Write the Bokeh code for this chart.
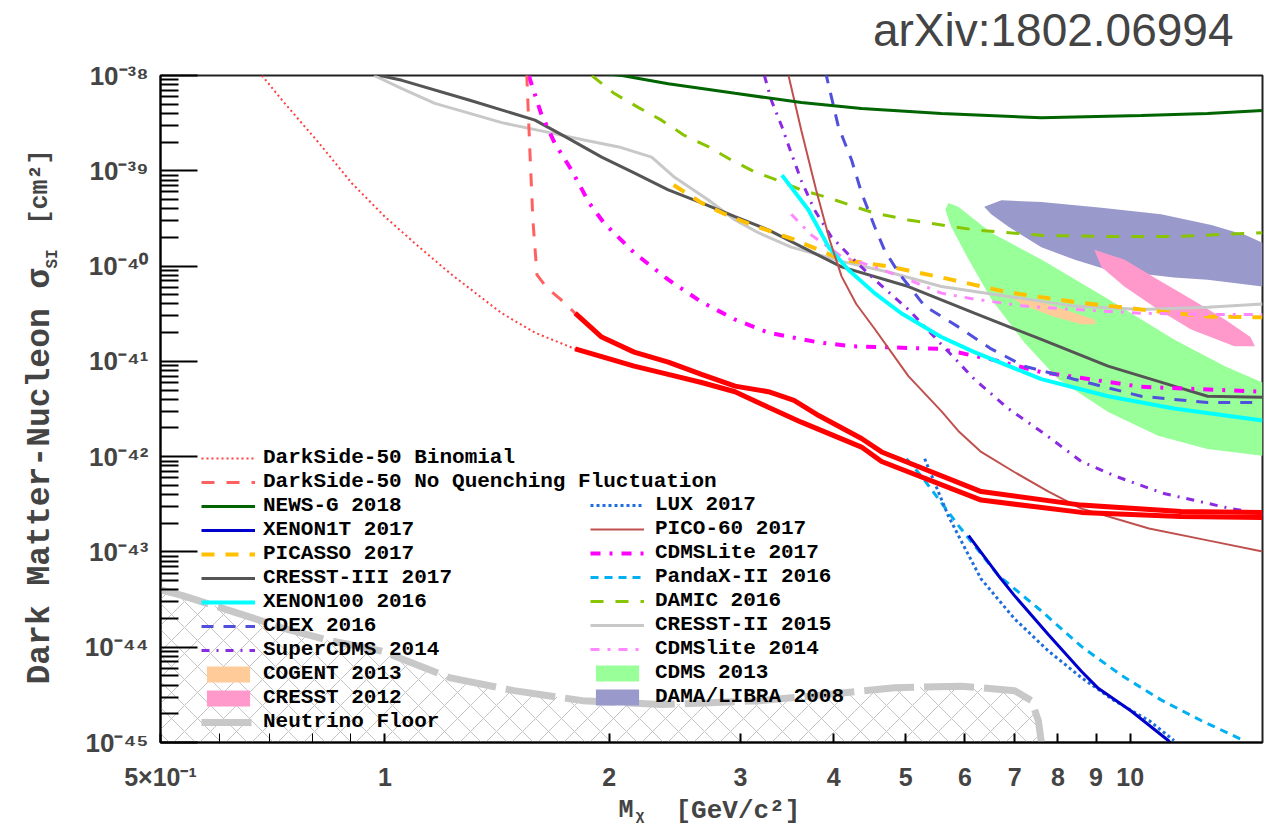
import math
from bokeh.plotting import figure
from bokeh.layouts import column, row
from bokeh.models import FixedTicker, Legend, LegendItem, Label
from bokeh.embed import file_html
from bokeh.resources import INLINE

# ---------------- axes ----------------
X_RANGE = (0.5, 15.05)
Y_RANGE = (1e-45, 1e-38)
x_ticks = [0.5, 1, 2, 3, 4, 5, 6, 7, 8, 9, 10]
x_tick_labels = ["5×10⁻¹", "1", "2", "3", "4", "5", "6", "7", "8", "9", "10"]
x_minor_ticks = [0.6, 0.7, 0.8, 0.9]
y_ticks = [1e-45, 1e-44, 1e-43, 1e-42, 1e-41, 1e-40, 1e-39, 1e-38]
y_tick_labels = ["10⁻⁴⁵", "10⁻⁴⁴", "10⁻⁴³", "10⁻⁴²", "10⁻⁴¹", "10⁻⁴⁰", "10⁻³⁹", "10⁻³⁸"]
y_minor_mantissas = [2, 3, 4, 5, 6, 7, 8, 9]

# ---------------- data (mass GeV/c^2, cross-section cm^2) ----------------
ds_bin_dot_m = [0.684, 0.734, 0.816, 0.903, 1.0, 1.11, 1.23, 1.435, 1.59, 1.80]
ds_bin_dot_s = [1.0e-38, 5.1e-39, 1.95e-39, 7.4e-40, 3.3e-40, 1.6e-40, 8.1e-41, 3.2e-41, 2.0e-41, 1.35e-41]

ds_nq_dash_m = [1.55, 1.565, 1.58, 1.60, 1.65, 1.72, 1.80]
ds_nq_dash_s = [1.05e-38, 1.65e-39, 3.0e-40, 8.1e-41, 5.9e-41, 4.5e-41, 3.2e-41]

ds_nq_m = [1.80, 1.954, 2.16, 2.40, 2.66, 2.95, 3.27, 3.54, 3.82, 4.36, 4.64, 6.31, 8.60, 11.7, 15.05]
ds_nq_s = [3.2e-41, 1.8e-41, 1.25e-41, 9.8e-42, 7.3e-42, 5.5e-42, 4.8e-42, 3.9e-42, 2.7e-42,
           1.55e-42, 1.12e-42, 4.3e-43, 3.1e-43, 2.65e-43, 2.6e-43]

ds_bin_m = [1.80, 1.954, 2.16, 2.40, 2.66, 2.95, 3.27, 3.62, 4.36, 4.64, 6.31, 8.60, 11.7, 15.05]
ds_bin_s = [1.35e-41, 1.12e-41, 8.9e-42, 7.3e-42, 6.0e-42, 4.8e-42, 3.3e-42, 2.3e-42, 1.26e-42,
            8.9e-43, 3.5e-43, 2.6e-43, 2.35e-43, 2.3e-43]

newsg_m = [1.85, 2.08, 2.40, 2.95, 3.62, 4.36, 5.58, 7.60, 10.35, 12.7, 15.05]
newsg_s = [1.1e-38, 1.0e-38, 8.2e-39, 6.5e-39, 5.2e-39, 4.5e-39, 4.0e-39, 3.6e-39, 3.8e-39, 4.0e-39, 4.3e-39]

xenon1t_m = [6.07, 6.65, 6.99, 7.77, 8.60, 9.06, 10.03, 11.25, 11.5]
xenon1t_s = [1.48e-43, 5.7e-44, 3.5e-44, 1.35e-44, 5.6e-45, 3.7e-45, 2.14e-45, 1.05e-45, 8.5e-46]

lux_m = [5.30, 5.70, 6.0, 6.31, 6.99, 7.77, 8.60, 9.52, 10.6, 11.45]
lux_s = [9.5e-43, 2.4e-43, 1.1e-43, 5.2e-44, 2.0e-44, 9.1e-45, 4.8e-45, 2.75e-45, 1.7e-45, 1.05e-45]

pandax_m = [5.01, 5.25, 5.88, 6.65, 7.60, 8.60, 9.72, 11.0, 12.45, 14.2]
pandax_s = [9.5e-43, 6.2e-43, 1.9e-43, 5.7e-44, 2.4e-44, 1.02e-44, 5.1e-45, 2.8e-45, 1.7e-45, 1.05e-45]

pico_m = [3.48, 3.62, 3.79, 3.95, 4.10, 4.29, 4.54, 5.04, 5.58, 5.88, 6.31, 6.99, 7.77, 8.60, 10.6, 12.9, 15.05]
pico_s = [1.0e-38, 2.66e-39, 6.3e-40, 1.9e-40, 7.8e-41, 4.0e-41, 2.2e-41, 7.0e-42, 3.0e-42, 1.86e-42,
          1.12e-42, 6.9e-43, 4.3e-43, 2.85e-43, 1.76e-43, 1.29e-43, 1.01e-43]

cdmslite17_m = [1.56, 1.62, 1.69, 1.78, 1.88, 1.97, 2.16, 2.40, 2.66, 2.95, 3.27, 3.82, 4.23, 5.58,
                6.51, 7.60, 10.35, 15.05]
cdmslite17_s = [1.0e-38, 4.0e-39, 1.95e-39, 1.02e-39, 4.6e-40, 2.8e-40, 1.38e-40, 7.2e-41, 4.2e-41,
                2.75e-41, 2.0e-41, 1.58e-41, 1.44e-41, 1.35e-41, 1.05e-41, 7.7e-42, 5.4e-42, 4.8e-42]

picasso_m = [2.44, 2.66, 2.86, 3.07, 3.30, 3.54, 3.82, 4.10, 4.78, 5.58, 6.86, 8.41, 10.35, 12.7, 15.05]
picasso_s = [7.1e-40, 4.6e-40, 3.5e-40, 2.8e-40, 2.3e-40, 1.9e-40, 1.48e-40, 1.17e-40, 9.8e-41,
             7.6e-41, 5.3e-41, 4.2e-41, 3.5e-41, 2.95e-41, 2.9e-41]

cresst3_m = [0.985, 1.054, 1.30, 1.59, 1.76, 1.954, 2.16, 2.40, 2.66, 2.95, 3.27, 3.62, 4.10, 5.04,
             6.18, 7.60, 9.34, 11.45, 12.7, 15.05]
cresst3_s = [1.0e-38, 8.9e-39, 5.5e-39, 3.4e-39, 2.2e-39, 1.39e-39, 9.5e-40, 6.3e-40, 4.6e-40, 3.3e-40,
             2.4e-40, 1.6e-40, 9.8e-41, 6.1e-41, 3.2e-41, 1.7e-41, 8.9e-42, 5.5e-42, 4.3e-42, 4.2e-42]

xenon100_m = [3.41, 3.70, 3.94, 4.19, 4.54, 4.93, 5.58, 6.18, 7.60, 9.34, 11.45, 15.05]
xenon100_s = [9.0e-40, 3.9e-40, 1.58e-40, 9.1e-41, 5.2e-41, 3.2e-41, 1.8e-41, 1.25e-41, 6.5e-42,
              4.3e-42, 3.2e-42, 2.4e-42]

cdex_m = [3.90, 4.06, 4.23, 4.36, 4.54, 4.68, 4.89, 5.30, 5.88, 6.51, 7.21, 8.41, 10.35, 12.7, 15.05]
cdex_s = [1.1e-38, 2.9e-39, 1.29e-39, 5.9e-40, 2.6e-40, 1.48e-40, 8.5e-41, 3.8e-41, 2.3e-41, 1.35e-41,
          8.9e-42, 6.5e-42, 4.3e-42, 3.7e-42, 3.7e-42]

supercdms_m = [3.23, 3.30, 3.41, 3.51, 3.62, 3.77, 3.97, 4.19, 4.54, 5.04, 5.58, 6.18, 6.86, 7.67,
               8.60, 9.52, 11.1, 13.65, 15.05]
supercdms_s = [1.0e-38, 5.5e-39, 2.9e-39, 1.53e-39, 7.9e-40, 3.9e-40, 2.04e-40, 1.32e-40, 7.2e-41,
               3.5e-41, 1.51e-41, 6.5e-42, 3.2e-42, 1.74e-42, 8.9e-43, 6.3e-43, 4.1e-43, 2.85e-43, 2.5e-43]

damic_m = [1.895, 2.03, 2.19, 2.35, 2.52, 2.72, 2.92, 3.13, 3.37, 3.62, 3.94, 4.27, 4.54, 5.04,
           6.18, 7.60, 9.34, 11.45, 15.05]
damic_s = [1.0e-38, 6.5e-39, 4.6e-39, 3.4e-39, 2.36e-39, 1.78e-39, 1.29e-39, 9.8e-40, 7.9e-40, 6.3e-40,
           5.2e-40, 4.2e-40, 3.6e-40, 3.05e-40, 2.4e-40, 2.1e-40, 2.04e-40, 2.04e-40, 2.24e-40]

cresst2_m = [0.967, 1.054, 1.167, 1.30, 1.435, 1.67, 1.85, 2.06, 2.28, 2.45, 2.72, 2.95, 3.17, 3.51,
             3.89, 4.10, 4.78, 5.58, 6.86, 8.41, 10.35, 12.7, 15.05]
cresst2_s = [1.0e-38, 7.3e-39, 5.1e-39, 4.0e-39, 3.2e-39, 2.5e-39, 2.1e-39, 1.78e-39, 1.39e-39, 8.5e-40,
             4.9e-40, 3.05e-40, 2.24e-40, 1.58e-40, 1.26e-40, 1.12e-40, 8.5e-41, 6.1e-41, 4.8e-41,
             3.8e-41, 3.5e-41, 3.7e-41, 4.0e-41]

cdmslite14_m = [3.51, 3.74, 4.10, 4.54, 5.04, 5.58, 6.18, 7.21, 8.41, 10.35, 12.7, 15.05]
cdmslite14_s = [3.5e-40, 2.1e-40, 1.26e-40, 9.8e-41, 7.2e-41, 5.2e-41, 4.5e-41, 3.8e-41, 3.5e-41,
                3.2e-41, 3.1e-41, 3.1e-41]

floor_m = [0.5, 0.534, 0.678, 0.727, 0.849, 0.991, 1.22, 1.49, 1.84, 2.35, 3.20, 3.94, 4.83, 5.94,
           7.0, 7.37, 7.53, 7.60]
floor_s = [4.0e-44, 3.5e-44, 1.93e-44, 1.6e-44, 1.16e-44, 9.1e-45, 4.8e-45, 3.5e-45, 2.75e-45, 2.5e-45,
           2.75e-45, 3.2e-45, 3.75e-45, 3.9e-45, 3.5e-45, 2.75e-45, 1.7e-45, 1.0e-45]

# closed regions (outline vertices)
cdms13_m = [5.70, 5.88, 6.51, 7.60, 9.34, 11.45, 13.4, 15.05, 15.05, 12.7, 10.9, 9.34, 8.01, 7.21,
            6.51, 6.07, 5.75, 5.65]
cdms13_s = [4.6e-40, 4.2e-40, 2.24e-40, 1.17e-40, 4.5e-41, 1.7e-41, 8.9e-42, 6.0e-42, 1.02e-42, 1.2e-42,
            1.66e-42, 2.95e-42, 6.5e-42, 1.58e-41, 4.5e-41, 1.17e-40, 2.6e-40, 3.9e-40]

dama_m = [6.37, 6.72, 7.60, 9.15, 11.0, 12.85, 14.3, 15.05, 15.05, 12.7, 11.45, 9.34, 8.41, 7.60, 6.86, 6.51]
dama_s = [4.2e-40, 4.9e-40, 4.7e-40, 4.1e-40, 3.5e-40, 2.7e-40, 2.1e-40, 1.76e-40, 6.1e-41, 7.2e-41,
          7.6e-41, 9.1e-41, 1.17e-40, 1.58e-40, 2.6e-40, 3.5e-40]

cresst12_m = [8.95, 9.82, 10.9, 12.07, 13.4, 14.5, 14.7, 13.8, 12.07, 10.9, 9.82, 9.15]
cresst12_s = [1.48e-40, 1.17e-40, 7.2e-41, 4.5e-41, 2.75e-41, 1.8e-41, 1.44e-41, 1.44e-41, 2.16e-41,
              3.5e-41, 6.1e-41, 9.8e-41]

cogent_m = [6.92, 7.60, 8.34, 8.95, 9.0, 8.60, 7.84, 7.14]
cogent_s = [4.8e-41, 4.2e-41, 3.3e-41, 2.75e-41, 2.45e-41, 2.45e-41, 3.0e-41, 4.0e-41]

# legend text, two columns (the second column starts on the third row)
legend_col1 = ["DarkSide-50 Binomial", "DarkSide-50 No Quenching Fluctuation", "NEWS-G 2018",
               "XENON1T 2017", "PICASSO 2017", "CRESST-III 2017", "XENON100 2016", "CDEX 2016",
               "SuperCDMS 2014", "COGENT 2013", "CRESST 2012", "Neutrino Floor"]
legend_col2 = ["LUX 2017", "PICO-60 2017", "CDMSLite 2017", "PandaX-II 2016", "DAMIC 2016",
               "CRESST-II 2015", "CDMSlite 2014", "CDMS 2013", "DAMA/LIBRA 2008"]

# ---------------- main figure ----------------
p = figure(width=1193, height=738, x_axis_type="log", y_axis_type="log",
           x_range=X_RANGE, y_range=Y_RANGE, output_backend="svg", toolbar_location=None,
           min_border_left=80, min_border_right=11, min_border_top=20, min_border_bottom=48)
p.xgrid.visible = False
p.ygrid.visible = False
p.background_fill_color = "white"
p.border_fill_color = "white"
p.outline_line_color = "#222222"
p.outline_line_width = 2

xa = p.xaxis[0]
xa.ticker = FixedTicker(ticks=x_ticks, minor_ticks=x_minor_ticks)
xa.major_label_overrides = dict(zip(x_ticks, x_tick_labels))
xa.major_tick_in = 9
xa.major_tick_out = 0
xa.minor_tick_in = 9
xa.minor_tick_out = 0
xa.axis_line_width = 2
xa.major_tick_line_width = 2
xa.major_label_text_font = "Liberation Sans"
xa.major_label_text_font_style = "bold"
xa.major_label_text_font_size = "25px"
xa.major_label_standoff = 20

y_minor = [k * t for t in y_ticks[:-1] for k in y_minor_mantissas]
ya = p.yaxis[0]
ya.ticker = FixedTicker(ticks=y_ticks, minor_ticks=y_minor)
ya.major_label_overrides = dict(zip(y_ticks, y_tick_labels))
ya.major_tick_in = 37
ya.major_tick_out = 0
ya.minor_tick_in = 18
ya.minor_tick_out = 0
ya.axis_line_width = 2
ya.major_tick_line_width = 2
ya.minor_tick_line_width = 2
ya.major_label_text_font = "Liberation Sans"
ya.major_label_text_font_style = "bold"
ya.major_label_text_font_size = "26px"
ya.major_label_standoff = 12

# hatched region below the neutrino floor
hatch_x = floor_m + [X_RANGE[0]]
hatch_y = floor_s + [Y_RANGE[0]]
p.patch(hatch_x, hatch_y, fill_alpha=0, line_alpha=0, hatch_pattern="diagonal_cross",
        hatch_color="#c4c4c4", hatch_scale=26, hatch_weight=1)

# filled regions
r_cdms13 = p.patch(cdms13_m, cdms13_s, fill_color="#99ff99", line_alpha=0)
r_dama = p.patch(dama_m, dama_s, fill_color="#9999cc", line_alpha=0)
r_cresst12 = p.patch(cresst12_m, cresst12_s, fill_color="#ff99cc", line_alpha=0)
r_cogent = p.patch(cogent_m, cogent_s, fill_color="#ffcc99", line_alpha=0)

# neutrino floor
r_floor = p.line(floor_m, floor_s, line_color="#c8c8c8", line_width=7, line_dash="50 10")

# lines
r_cresst2 = p.line(cresst2_m, cresst2_s, line_color="#c8c8c8", line_width=3)
r_cresst3 = p.line(cresst3_m, cresst3_s, line_color="#555555", line_width=3)
r_damic = p.line(damic_m, damic_s, line_color="#88c400", line_width=3, line_dash="13 12")
r_picasso = p.line(picasso_m, picasso_s, line_color="#ffc000", line_width=4, line_dash="13 11")
r_cdmslite14 = p.line(cdmslite14_m, cdmslite14_s, line_color="#ff88ff", line_width=3, line_dash="9 8 3 8")
r_cdmslite17 = p.line(cdmslite17_m, cdmslite17_s, line_color="#ff00ff", line_width=4, line_dash="10 9 3 9")
r_supercdms = p.line(supercdms_m, supercdms_s, line_color="#8a2be2", line_width=3, line_dash="8 7 2 7")
r_cdex = p.line(cdex_m, cdex_s, line_color="#5050dd", line_width=3, line_dash="12 10")
r_xenon100 = p.line(xenon100_m, xenon100_s, line_color="#00ffff", line_width=4)
r_pico = p.line(pico_m, pico_s, line_color="#c0504d", line_width=2)
r_newsg = p.line(newsg_m, newsg_s, line_color="#006400", line_width=3)
r_pandax = p.line(pandax_m, pandax_s, line_color="#00b0f0", line_width=3, line_dash="8 6")
r_lux = p.line(lux_m, lux_s, line_color="#1e6fdc", line_width=3, line_dash="3 3")
r_xenon1t = p.line(xenon1t_m, xenon1t_s, line_color="#0000cc", line_width=3)

r_ds_bin_dot = p.line(ds_bin_dot_m, ds_bin_dot_s, line_color="#ff4040", line_width=2, line_dash="2 3")
r_ds_nq_dash = p.line(ds_nq_dash_m, ds_nq_dash_s, line_color="#ff6060", line_width=3, line_dash="13 12")
p.line(ds_bin_m, ds_bin_s, line_color="#ff0000", line_width=5)
p.line(ds_nq_m, ds_nq_s, line_color="#ff0000", line_width=5)

# legends: one entry per Legend so that each row sits where the reference has it
col1_renderers = [r_ds_bin_dot, r_ds_nq_dash, r_newsg, r_xenon1t, r_picasso, r_cresst3, r_xenon100,
                  r_cdex, r_supercdms, r_cogent, r_cresst12, r_floor]
col2_renderers = [r_lux, r_pico, r_cdmslite17, r_pandax, r_damic, r_cresst2, r_cdmslite14,
                  r_cdms13, r_dama]
legend_style = dict(glyph_width=54, glyph_height=20, label_height=20, spacing=0, padding=0,
                    margin=0, background_fill_alpha=0, border_line_alpha=0,
                    label_text_font="Liberation Mono", label_text_font_style="bold",
                    label_text_font_size="21px", label_text_color="black")
ROW_PITCH = 24
for i, (lab, r) in enumerate(zip(legend_col1, col1_renderers)):
    p.add_layout(Legend(items=[LegendItem(label=lab, renderers=[r])],
                        location=(41, 273 - i * ROW_PITCH), label_standoff=8, **legend_style))
for i, (lab, r) in enumerate(zip(legend_col2, col2_renderers)):
    p.add_layout(Legend(items=[LegendItem(label=lab, renderers=[r])],
                        location=(430, 226 - i * ROW_PITCH), label_standoff=11, **legend_style))


# ---------------- text strips around the main figure ----------------
def strip(w, h):
    f = figure(width=w, height=h, output_backend="svg", toolbar_location=None,
               x_axis_location=None, y_axis_location=None,
               min_border_left=0, min_border_right=0, min_border_top=0, min_border_bottom=0)
    f.grid.visible = False
    f.outline_line_color = None
    f.background_fill_color = "white"
    f.border_fill_color = "white"
    return f


mono = "Liberation Mono"

top = strip(1273, 55)
top.add_layout(Label(x=1233, y=26, x_units="screen", y_units="screen", text="arXiv:1802.06994",
                     text_font="Liberation Sans", text_font_size="46px", text_color="#444444",
                     text_align="right", text_baseline="alphabetic"))

# the strip's frame is aligned with the main frame (670 px tall)
left = strip(80, 738)
left.add_layout(Label(x=40, y=58, x_units="screen", y_units="screen", text="Dark Matter-Nucleon σ",
                      angle=math.pi / 2, text_font=mono, text_font_style="bold", text_font_size="33px",
                      text_align="left", text_baseline="alphabetic"))
left.add_layout(Label(x=52, y=474, x_units="screen", y_units="screen", text="SI",
                      angle=math.pi / 2, text_font=mono, text_font_style="bold", text_font_size="16px",
                      text_align="left", text_baseline="alphabetic"))
left.add_layout(Label(x=40, y=518, x_units="screen", y_units="screen", text="[cm²]",
                      angle=math.pi / 2, text_font=mono, text_font_style="bold", text_font_size="25px",
                      text_align="left", text_baseline="alphabetic"))

bottom = strip(1273, 32)
bottom.add_layout(Label(x=618, y=15, x_units="screen", y_units="screen", text="M",
                        text_font=mono, text_font_style="bold", text_font_size="25px",
                        text_align="left", text_baseline="alphabetic"))
bottom.add_layout(Label(x=635, y=9, x_units="screen", y_units="screen", text="χ",
                        text_font=mono, text_font_style="bold", text_font_size="15px",
                        text_align="left", text_baseline="alphabetic"))
bottom.add_layout(Label(x=675, y=15, x_units="screen", y_units="screen", text="[GeV/c²]",
                        text_font=mono, text_font_style="bold", text_font_size="26px",
                        text_align="left", text_baseline="alphabetic"))

page = column(top, row(left, p), bottom)
open("out.html", "w").write(file_html(page, INLINE))
